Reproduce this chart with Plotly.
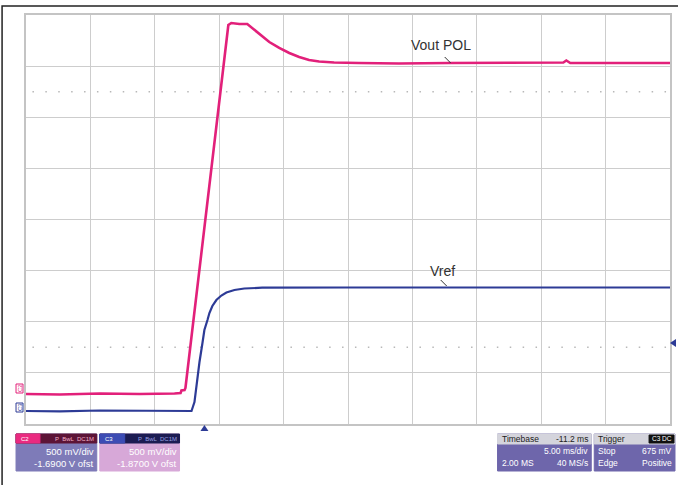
import plotly.graph_objects as go

# ---- data (time in ms, amplitude in screen divisions) ----
vout_t = [0, 2.63, 5.73, 8.82, 11.53, 12.00, 12.07, 12.31, 12.38, 15.71, 15.94, 16.56, 17.18,
          17.72, 18.27, 18.89, 19.66, 20.44, 21.21, 21.98, 22.76, 23.92, 25.85, 28.95, 32.82,
          36.69, 41.72, 41.95, 42.26, 45.98, 50]
vout_d = [0.587, 0.577, 0.597, 0.587, 0.597, 0.606, 0.655, 0.665, 0.704, 7.804, 7.844, 7.824, 7.824,
          7.707, 7.589, 7.472, 7.355, 7.257, 7.179, 7.120, 7.091, 7.071, 7.061, 7.051, 7.061,
          7.061, 7.071, 7.110, 7.061, 7.061, 7.061]

vref_t = [0, 2.63, 5.73, 8.82, 11.53, 12.85, 13.08, 13.24, 13.47, 13.70, 13.85, 14.09, 14.24,
          14.47, 14.78, 15.17, 15.56, 16.18, 16.95, 18.34, 21.21, 25.08, 32.82, 40.56, 50]
vref_d = [0.254, 0.245, 0.264, 0.254, 0.245, 0.254, 0.430, 0.763, 1.213, 1.584, 1.839, 2.034, 2.171,
          2.308, 2.425, 2.513, 2.572, 2.621, 2.650, 2.666, 2.670, 2.670, 2.670, 2.676, 2.670]

MAGENTA = "#e2207a"
BLUE = "#2d3b96"

W, H = 678, 485
L, R, T, B = 26, 672, 15, 424


def px(x):
    return (x - L) / (R - L)


def py(y):
    return (B - y) / (B - T)


fig = go.Figure()
fig.add_trace(go.Scatter(x=vout_t, y=vout_d, mode="lines",
                         line=dict(color=MAGENTA, width=2.6), hoverinfo="skip"))
fig.add_trace(go.Scatter(x=vref_t, y=vref_d, mode="lines",
                         line=dict(color=BLUE, width=2.2), hoverinfo="skip"))

fig.update_layout(
    width=W, height=H, showlegend=False,
    margin=dict(l=L, r=W - R, t=T, b=H - B),
    paper_bgcolor="white", plot_bgcolor="white",
    font=dict(family="Liberation Sans, Arial, sans-serif"),
)
fig.update_xaxes(range=[0, 50], dtick=5, showticklabels=False, ticks="",
                 showgrid=True, gridcolor="#cdcdcd", gridwidth=1, zeroline=False,
                 showline=True, linecolor="#c4c4c4", linewidth=1.5, mirror=True)
fig.update_yaxes(range=[0, 8], dtick=1, showticklabels=False, ticks="",
                 showgrid=True, gridcolor="#cdcdcd", gridwidth=1, zeroline=False,
                 showline=True, linecolor="#c4c4c4", linewidth=1.5, mirror=True)

shapes = []
# dotted helper lines
for yd in (1.5, 6.5):
    shapes.append(dict(type="line", xref="x", yref="y", x0=0.5, x1=49.7, y0=yd, y1=yd,
                       line=dict(color="#b8b8b8", width=1.5, dash="1.5px,11.4px"), layer="below"))
# outer frame
shapes.append(dict(type="rect", xref="paper", yref="paper",
                   x0=px(2), x1=px(690), y0=py(6), y1=py(492),
                   line=dict(color="#222222", width=1.5)))
# trigger markers
shapes.append(dict(type="path", xref="paper", yref="paper",
                   path=f"M {px(201)},{py(431)} L {px(209)},{py(431)} L {px(205)},{py(425)} Z",
                   fillcolor=BLUE, line=dict(width=0)))
shapes.append(dict(type="path", xref="paper", yref="paper",
                   path=f"M {px(672)},{py(343)} L {px(678)},{py(339)} L {px(678)},{py(347)} Z",
                   fillcolor=BLUE, line=dict(width=0)))
# leader lines for labels
shapes.append(dict(type="line", xref="paper", yref="paper",
                   x0=px(446), y0=py(57), x1=px(452), y1=py(63), line=dict(color="#333", width=1)))
shapes.append(dict(type="line", xref="paper", yref="paper",
                   x0=px(442), y0=py(280), x1=px(448), y1=py(286), line=dict(color="#333", width=1)))


def box(x0, x1, y0, y1, color, line=None):
    shapes.append(dict(type="rect", xref="paper", yref="paper",
                       x0=px(x0), x1=px(x1), y0=py(y0), y1=py(y1),
                       fillcolor=color, line=dict(color=line or color, width=1)))


# left channel markers
box(16, 23, 384, 393, "#ffffff", MAGENTA)
box(16, 23, 403, 412, "#ffffff", BLUE)
# channel boxes
box(16, 97, 434, 471, "#7e7bb8")
box(16, 97, 434, 443, "#5c1436")
box(16, 40, 434, 443, "#ea2a80")
box(100, 180, 434, 471, "#d7a8d8")
box(100, 180, 434, 443, "#1c1c52")
box(100, 125, 434, 443, "#3c4cb4")
# timebase / trigger boxes
box(499, 593, 434, 471, "#6e66ab")
box(499, 593, 434, 444, "#d4d4dc")
box(596, 677, 434, 471, "#6e66ab")
box(596, 677, 434, 444, "#d4d4dc")
box(651, 676, 435, 443, "#111111")

fig.update_layout(shapes=shapes)

ann = []


def txt(x, y, s, size=8.5, color="white", anchor="left", angle=0, **kw):
    ann.append(dict(xref="paper", yref="paper", x=px(x), y=py(y), text=s, showarrow=False,
                    xanchor=anchor, yanchor="middle", textangle=angle,
                    font=dict(size=size, color=color), **kw))


txt(442, 45, "Vout POL", size=14, color="#333333", anchor="center")
txt(444, 271, "Vref", size=14, color="#333333", anchor="center")

txt(19.5, 388.5, "C2", size=6, color=MAGENTA, anchor="center", angle=-90)
txt(19.5, 407.5, "C3", size=6, color=BLUE, anchor="center", angle=-90)

txt(19, 438.5, "C2", size=6, color="#ffffff")
txt(96, 438.5, "P  BwL  DC1M", size=6, color="#f0b0c8", anchor="right")
txt(96, 451, "500 mV/div", size=9.5, anchor="right")
txt(96, 463, "-1.6900 V ofst", size=9.5, anchor="right")

txt(103, 438.5, "C3", size=6, color="#ffffff")
txt(179, 438.5, "P  BwL  DC1M", size=6, color="#9aa0e0", anchor="right")
txt(179, 451, "500 mV/div", size=9.5, anchor="right")
txt(179, 463, "-1.8700 V ofst", size=9.5, anchor="right")

txt(501, 439, "Timebase", size=8.5, color="#222222")
txt(592, 439, "-11.2 ms", size=8.5, color="#222222", anchor="right")
txt(592, 451, "5.00 ms/div", size=8.5, anchor="right")
txt(501, 463, "2.00 MS", size=8.5)
txt(592, 463, "40 MS/s", size=8.5, anchor="right")

txt(598, 439, "Trigger", size=8.5, color="#222222")
txt(663.5, 439, "C3 DC", size=6.5, color="#ffffff", anchor="center")
txt(598, 451, "Stop", size=8.5)
txt(676, 451, "675 mV", size=8.5, anchor="right")
txt(598, 463, "Edge", size=8.5)
txt(676, 463, "Positive", size=8.5, anchor="right")

fig.update_layout(annotations=ann)
fig.write_html("out.html", config={"displayModeBar": False},
               post_script="document.body.style.margin='0';document.body.style.overflow='hidden';")
